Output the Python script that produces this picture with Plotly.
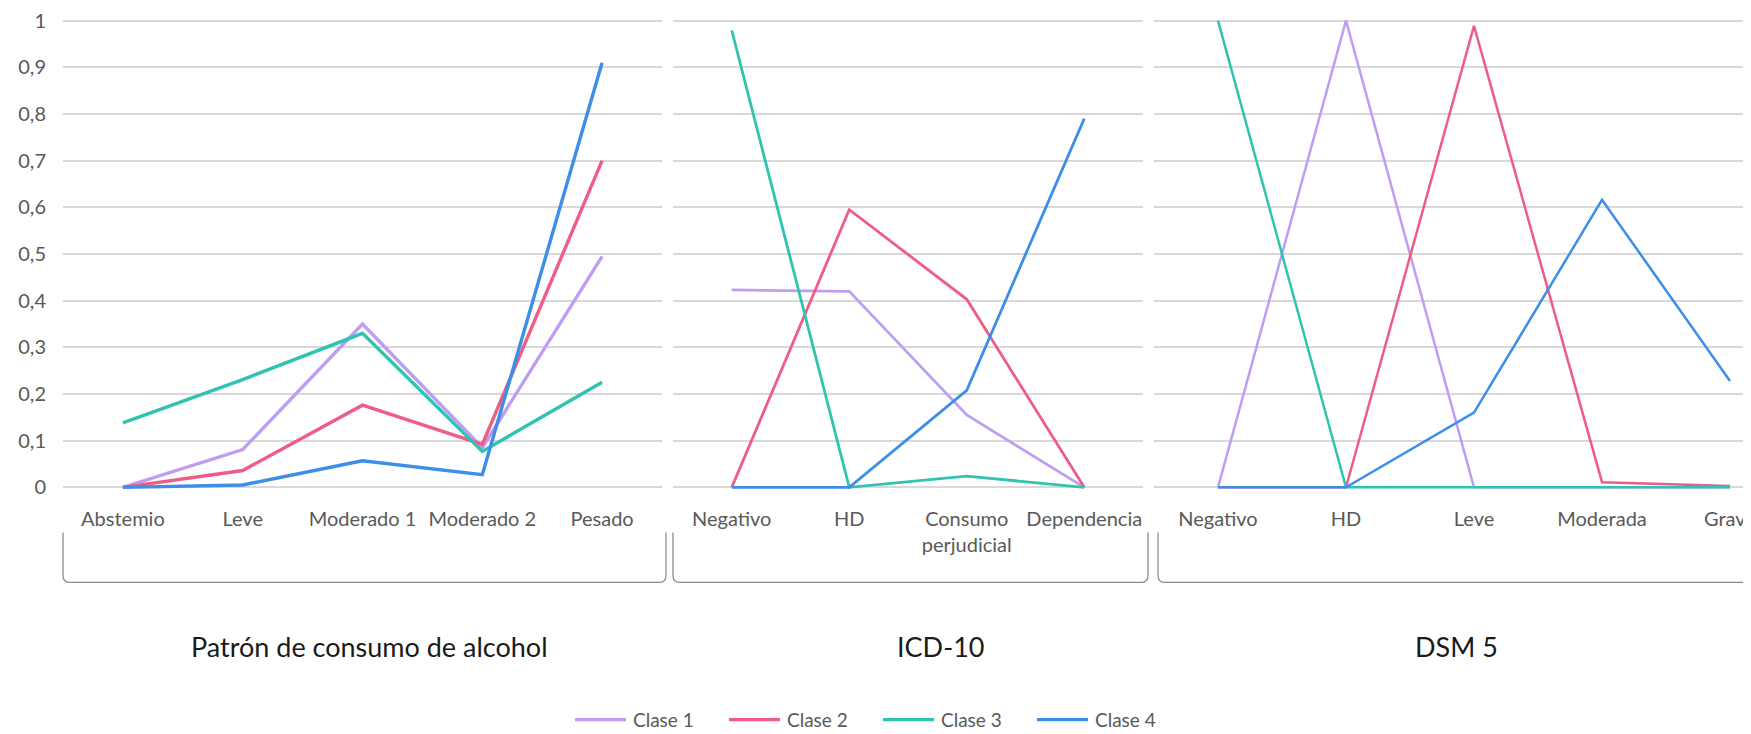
import plotly.graph_objects as go

# ---------------- data ----------------
group_titles = ["Patrón de consumo de alcohol", "ICD-10", "DSM 5"]
cats_patron = ["Abstemio", "Leve", "Moderado 1", "Moderado 2", "Pesado"]
cats_icd = ["Negativo", "HD", "Consumo<br>perjudicial", "Dependencia"]
cats_dsm = ["Negativo", "HD", "Leve", "Moderada", "Grave"]

series_names = ["Clase 1", "Clase 2", "Clase 3", "Clase 4"]

patron_clase1 = [0.0, 0.081, 0.350, 0.085, 0.495]
patron_clase2 = [0.0, 0.036, 0.176, 0.092, 0.700]
patron_clase3 = [0.138, 0.231, 0.330, 0.077, 0.225]
patron_clase4 = [0.0, 0.005, 0.057, 0.027, 0.910]

icd_clase1 = [0.423, 0.420, 0.155, 0.0]
icd_clase2 = [0.0, 0.595, 0.403, 0.0]
icd_clase3 = [0.979, 0.0, 0.024, 0.0]
icd_clase4 = [0.0, 0.0, 0.208, 0.790]

dsm_clase1 = [0.0, 1.0, 0.0, 0.0, 0.0]
dsm_clase2 = [0.0, 0.0, 0.989, 0.011, 0.003]
dsm_clase3 = [1.0, 0.0, 0.0, 0.0, 0.0]
dsm_clase4 = [0.0, 0.0, 0.160, 0.616, 0.228]

y_tickvals = [0, 0.1, 0.2, 0.3, 0.4, 0.5, 0.6, 0.7, 0.8, 0.9, 1]
y_ticktext = ["0", "0,1", "0,2", "0,3", "0,4", "0,5", "0,6", "0,7", "0,8", "0,9", "1"]

# ---------------- styling ----------------
colors = ["#BF9DF3", "#EE5D86", "#30C3B1", "#3D8EE6"]
OFF = 8                      # page body margin offset
W, H = 1751 - OFF, 734 - OFF
PL, PR = 63 - OFF, 1751 - OFF   # plot area left / right (fig px)
Y0, Y1 = 487 - OFF, 21 - OFF    # fig pixel of y=0 and y=1
PAD = 0.01
per = (Y0 - Y1)
PT = Y1 - PAD * per
PB = Y0 + PAD * per
PW = PR - PL
PH = PB - PT

def px_x(p):
    """screen pixel -> paper x"""
    return (p - OFF - PL) / PW

def px_y(p):
    """screen pixel -> paper y"""
    return (PB - (p - OFF)) / PH

FONT = "Lato, 'Open Sans', sans-serif"
TICK_COLOR = "#595959"
GRID = "#D9D9D9"

groups = [
    (cats_patron, [patron_clase1, patron_clase2, patron_clase3, patron_clase4], (63, 662), None, 3.4),
    (cats_icd, [icd_clase1, icd_clase2, icd_clase3, icd_clase4], (673, 1143), None, 2.8),
    (cats_dsm, [dsm_clase1, dsm_clase2, dsm_clase3, dsm_clase4], (1154, 1751), 128.0, 2.5),
]

fig = go.Figure()
layout = dict(
    width=W, height=H,
    template="none",
    paper_bgcolor="white", plot_bgcolor="white",
    margin=dict(l=PL, r=W - PR, t=PT, b=H - PB, autoexpand=False),
    font=dict(family=FONT, color=TICK_COLOR, size=20),
    showlegend=False,
)

for gi, (cats, series, (gx0, gx1), step, lw) in enumerate(groups):
    xa = "x" if gi == 0 else f"x{gi + 1}"
    ya = "y" if gi == 0 else f"y{gi + 1}"
    for si, vals in enumerate(series):
        fig.add_trace(go.Scatter(
            x=cats, y=vals, mode="lines", name=series_names[si],
            line=dict(color=colors[si], width=lw),
            legendgroup=series_names[si], showlegend=False,
            xaxis=xa, yaxis=ya, hoverinfo="skip",
        ))
    xkey = "xaxis" if gi == 0 else f"xaxis{gi + 1}"
    ykey = "yaxis" if gi == 0 else f"yaxis{gi + 1}"
    if step is None:
        xr = [-0.5, len(cats) - 0.5]
    else:
        xr = [-0.5, -0.5 + (gx1 - gx0) / step]
    layout[xkey] = dict(
        domain=[max(0, px_x(gx0)), min(1, px_x(gx1))], anchor=ya, type="category",
        range=xr, showgrid=False, zeroline=False, showline=False,
        ticks="", tickfont=dict(family=FONT, size=20, color=TICK_COLOR),
        ticklabelstandoff=13, ticklabeloverflow="allow",
        automargin=False, fixedrange=True,
    )
    layout[ykey] = dict(
        domain=[0, 1], anchor=xa, range=[-PAD, 1 + PAD],
        tickvals=y_tickvals, ticktext=y_ticktext,
        showticklabels=(gi == 0), showgrid=True, gridcolor=GRID, gridwidth=1.5,
        zeroline=False, showline=False, ticks="",
        tickfont=dict(family=FONT, size=20, color=TICK_COLOR),
        ticklabelstandoff=16, ticklabeloverflow="allow",
        automargin=False, fixedrange=True,
    )

# group brackets
shapes = []
def bracket(x0, x1, top=532, bot=582, r=7):
    pts = [
        f"M {px_x(x0)},{px_y(top)}",
        f"L {px_x(x0)},{px_y(bot - r)}",
        f"Q {px_x(x0)},{px_y(bot)} {px_x(x0 + r)},{px_y(bot)}",
        f"L {px_x(x1 - r)},{px_y(bot)}",
        f"Q {px_x(x1)},{px_y(bot)} {px_x(x1)},{px_y(bot - r)}",
        f"L {px_x(x1)},{px_y(top)}",
    ]
    return dict(type="path", xref="paper", yref="paper", path=" ".join(pts),
                line=dict(color="#8C8C8C", width=1.3))

shapes.append(bracket(63, 666))
shapes.append(bracket(673, 1148))
shapes.append(bracket(1158, 1830))

# legend (drawn manually to match the long line keys)
legend_x0 = 575
legend_step = 154
legend_y = 719
annotations = []
for si, name in enumerate(series_names):
    lx = legend_x0 + si * legend_step
    shapes.append(dict(type="line", xref="paper", yref="paper",
                       x0=px_x(lx), x1=px_x(lx + 51), y0=px_y(legend_y), y1=px_y(legend_y),
                       line=dict(color=colors[si], width=3.4)))
    annotations.append(dict(text=name, xref="paper", yref="paper",
                            x=px_x(lx + 56), y=px_y(legend_y),
                            xanchor="left", yanchor="middle", showarrow=False,
                            font=dict(family=FONT, size=19, color=TICK_COLOR)))
layout["shapes"] = shapes

title_px = [369, 940, 1456]
annotations += [
    dict(text=t, xref="paper", yref="paper", x=px_x(cx), y=px_y(646),
         xanchor="center", yanchor="middle", showarrow=False,
         font=dict(family=FONT, size=27, color="#1A1A1A"))
    for t, cx in zip(group_titles, title_px)
]
layout["annotations"] = annotations

fig.update_layout(**layout)
fig.write_html("out.html")
